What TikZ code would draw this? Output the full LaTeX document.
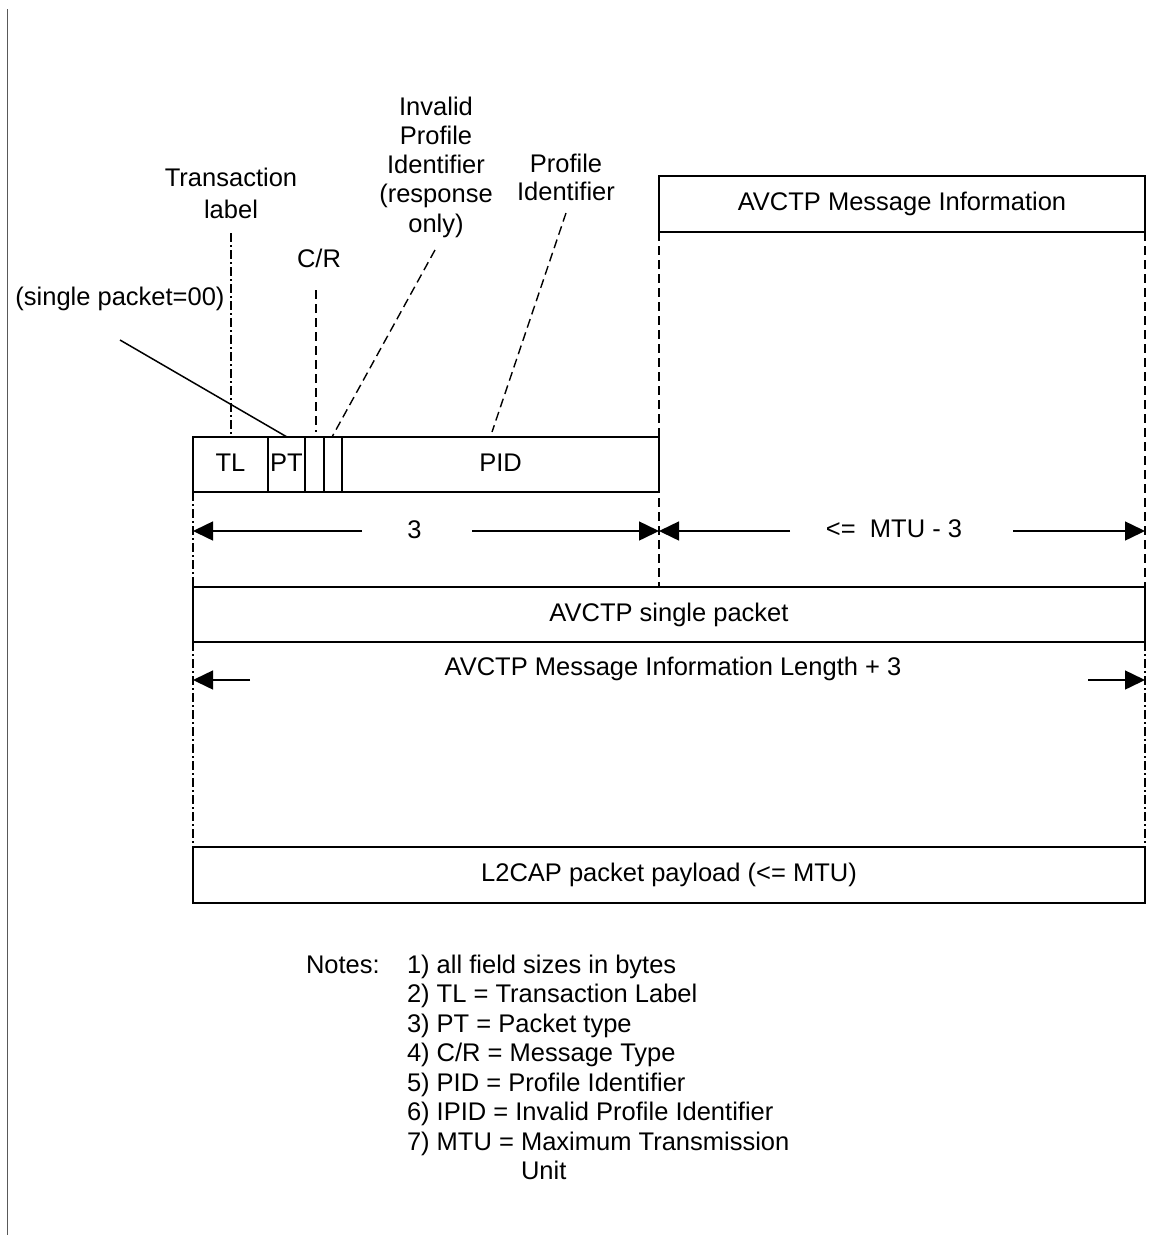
\documentclass[tikz,border=0pt]{standalone}
\usepackage{fontspec}
\setmainfont{Liberation Sans}
\usetikzlibrary{arrows.meta}
\newcommand\lbl[1]{\begin{tabular}[t]{@{}c@{}}#1\end{tabular}}
\newcommand\lbll[1]{\begin{tabular}[t]{@{}l@{}}#1\end{tabular}}
\begin{document}
\begin{tikzpicture}[x=1pt,y=-1pt,
  every node/.style={font=\fontsize{25.5}{29.5}\selectfont, inner sep=0pt, outer sep=0pt},
  field/.style={draw, line width=1.5pt, minimum height=55pt, text height=18pt, text depth=5pt},
  dashedl/.style={line width=1.4pt, dash pattern=on 9pt off 5pt},
  dashdot/.style={line width=1.4pt, dash pattern=on 9pt off 3pt on 2pt off 3pt},
  solidl/.style={line width=1.5pt},
  dimarrow/.style={line width=1.5pt, -{Triangle[length=20pt,width=19pt]}}]
\useasboundingbox (0,0) rectangle (1152,1235);
% left border line
\coordinate (bt) at (7,9);
\coordinate (bb) at (7,1235);
\draw[line width=1pt, color=black!65] (bt) -- (bb);

% header fields
\node[field, minimum width=75pt] (tl) at (230.5,464.5) {TL};
\node[field, minimum width=37pt] (pt) at (286.5,464.5) {PT};
\node[field, minimum width=19pt] (cr) at (314.5,464.5) {};
\node[field, minimum width=18pt] (ipid) at (333,464.5) {};
\node[field, minimum width=317pt] (pid) at (500.5,464.5) {PID};

% message info
\node[field, minimum width=486pt, minimum height=56pt] (msg) at (902,204) {AVCTP Message Information};
% single packet
\node[field, minimum width=952pt] (single) at (669,614.5) {AVCTP single packet};
% l2cap
\node[field, minimum width=952pt, minimum height=56pt] (l2cap) at (669,875) {L2CAP packet payload (<= MTU)};

% vertical guide lines
\draw[dashdot] (tl.south west) -- (single.north west);
\draw[dashdot] (single.south west) -- (l2cap.north west);
\draw[dashedl] (msg.south west) -- (msg.south west |- single.north);
\draw[dashedl] (msg.south east) -- (msg.south east |- single.north);
\draw[dashdot] (single.south east) -- (l2cap.north east);

% top labels
\node[anchor=base] (tlab) at (231,186) {\fontsize{25.5}{32.5}\selectfont\lbl{Transaction\\label}};
\node[anchor=base] (crlab) at (319,267) {C/R};
\node[anchor=base] (ipidlab) at (436,115) {\fontsize{25.5}{29.3}\selectfont\lbl{Invalid\\Profile\\Identifier\\(response\\only)}};
\node[anchor=base] (pidlab) at (566,172) {\fontsize{25.5}{28}\selectfont\lbl{Profile\\Identifier}};
\node[anchor=base] (splab) at (120,305) {(single packet=00)};

% label connectors
\coordinate (tlA) at (231,233);
\coordinate (tlB) at (231,434);
\draw[dashdot] (tlA) -- (tlB);
\coordinate (crA) at (316,290);
\coordinate (crB) at (316,432);
\draw[dashedl] (crA) -- (crB);
\coordinate (ipA) at (435,250);
\coordinate (ipB) at (332,437);
\draw[dashedl] (ipA) -- (ipB);
\coordinate (pdA) at (566,213);
\coordinate (pdB) at (492,432);
\draw[dashedl] (pdA) -- (pdB);
\coordinate (spA) at (120,340);
\coordinate (spB) at (287,437);
\draw[solidl] (spA) -- (spB);

% dimension arrows row 1
\coordinate (d1a) at (362,531);
\coordinate (d1b) at (193,531);
\coordinate (d1c) at (472,531);
\coordinate (d1d) at (659,531);
\draw[dimarrow] (d1a) -- (d1b);
\draw[dimarrow] (d1c) -- (d1d);
\node (three) at (414.5,530) {3};
\coordinate (d2a) at (790,531);
\coordinate (d2b) at (659,531);
\coordinate (d2c) at (1013,531);
\coordinate (d2d) at (1145,531);
\draw[dimarrow] (d2a) -- (d2b);
\draw[dimarrow] (d2c) -- (d2d);
\node[anchor=base] (mtu) at (894,537) {<=\ \ MTU - 3};

% dimension arrows row 2
\coordinate (d3a) at (250,680);
\coordinate (d3b) at (193,680);
\coordinate (d3c) at (1088,680);
\coordinate (d3d) at (1145,680);
\draw[dimarrow] (d3a) -- (d3b);
\draw[dimarrow] (d3c) -- (d3d);
\node[anchor=base] (len) at (673,675) {AVCTP Message Information Length + 3};

% notes
\node[anchor=base west] (notes) at (306,973) {Notes:};
\node[anchor=base west] (noteitems) at (407,973) {\lbll{1) all field sizes in bytes\\2) TL = Transaction Label\\3) PT = Packet type\\4) C/R = Message Type\\5) PID = Profile Identifier\\6) IPID = Invalid Profile Identifier\\7) MTU = Maximum Transmission\\\phantom{7) MTU = }Unit}};
\end{tikzpicture}
\end{document}
